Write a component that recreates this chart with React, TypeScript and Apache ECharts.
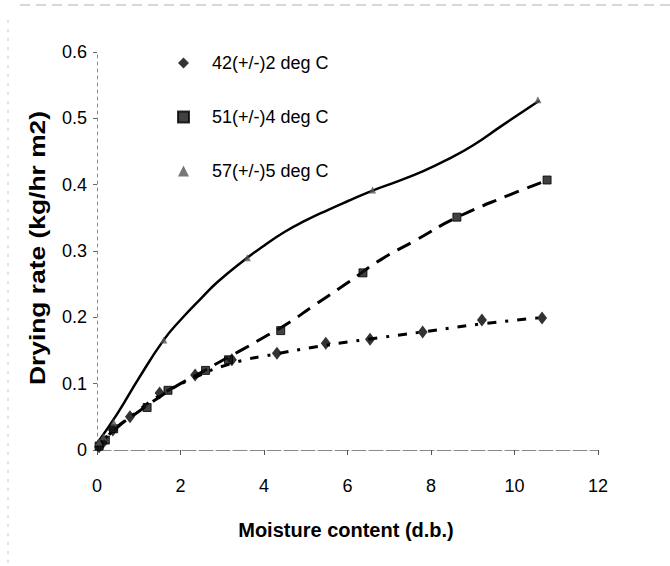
import React, { useEffect, useRef } from "react";
import * as echarts from "echarts";

// Measured points (moisture content d.b., drying rate kg/hr m2)
const series42X = [0.05, 0.14, 0.38, 0.79, 1.5, 2.35, 3.23, 4.31, 5.48, 6.54, 7.8, 9.22, 10.66];
const series42Y = [0.005, 0.011, 0.03, 0.05, 0.086, 0.113, 0.136, 0.146, 0.161, 0.167, 0.178, 0.196, 0.199];

const series51X = [0.05, 0.2, 0.4, 1.2, 1.7, 2.6, 3.15, 4.4, 6.37, 8.62, 10.78];
const series51Y = [0.006, 0.015, 0.032, 0.064, 0.09, 0.12, 0.136, 0.18, 0.267, 0.351, 0.407];

const series57X = [0.05, 0.15, 0.4, 1.6, 3.6, 6.6, 10.56];
const series57Y = [0.012, 0.02, 0.042, 0.166, 0.29, 0.392, 0.528];

// Fitted trend lines
const trend42X = [0, 0.4, 0.8, 1.5, 2.3, 3.2, 4.3, 5.5, 6.5, 7.8, 9.2, 10.7];
const trend42Y = [0.003, 0.03, 0.05, 0.082, 0.108, 0.13, 0.145, 0.158, 0.167, 0.178, 0.19, 0.2];

const trend51X = [0, 0.5, 1, 1.5, 2, 2.5, 3, 3.5, 4, 4.5, 5.2, 6, 6.8, 7.6, 8.6, 9.9, 10.8];
const trend51Y = [0.005, 0.035, 0.058, 0.08, 0.1, 0.117, 0.135, 0.152, 0.17, 0.188, 0.218, 0.252, 0.287, 0.315, 0.35, 0.385, 0.407];

const trend57X = [0, 0.5, 1, 1.6, 2, 2.5, 2.9, 3.5, 4, 4.5, 5, 5.5, 6, 6.6, 7.2, 7.8, 8.4, 9, 9.7, 10.6];
const trend57Y = [0.01, 0.056, 0.108, 0.166, 0.196, 0.229, 0.254, 0.285, 0.308, 0.329, 0.346, 0.361, 0.375, 0.391, 0.405, 0.42, 0.438, 0.459, 0.489, 0.527];

const legendNames = ["42(+/-)2 deg C", "51(+/-)4 deg C", "57(+/-)5 deg C"];
const xTitle = "Moisture content (d.b.)";
const yTitle = "Drying rate (kg/hr m2)";

const zip = (xs: number[], ys: number[]) => xs.map((x, i) => [x, ys[i]]);

const FONT = "'Liberation Sans Narrow', 'Liberation Sans', Arial, sans-serif";
const FONT_B = "'Liberation Sans', Arial, sans-serif";

export default function App() {
  const ref = useRef<HTMLDivElement>(null);
  useEffect(() => {
    if (!ref.current) return;
    const chart = echarts.init(ref.current, null, { renderer: "svg" });
    chart.setOption({
      animation: false,
      backgroundColor: "#ffffff",
      grid: { left: 97, right: 72, top: 52, bottom: 116, containLabel: false },
      xAxis: {
        type: "value",
        min: 0,
        max: 12,
        interval: 2,
        axisLine: { show: true, onZero: false, lineStyle: { color: "#8a8a8a", width: 1, type: [14, 3] } },
        axisTick: { show: true, length: 5, lineStyle: { color: "#555", width: 1 } },
        axisLabel: { color: "#000", fontSize: 18, fontFamily: FONT, margin: 27 },
        splitLine: { show: false },
      },
      yAxis: {
        type: "value",
        min: 0,
        max: 0.6,
        interval: 0.1,
        axisLine: { show: true, lineStyle: { color: "#888", width: 1, type: [3, 4] } },
        axisTick: { show: true, length: 4, lineStyle: { color: "#666", width: 1 } },
        axisLabel: {
          color: "#000",
          fontSize: 18,
          fontFamily: FONT,
          margin: 10,
          formatter: (v: number) => (v === 0 ? "0" : String(Math.round(v * 10) / 10)),
        },
        splitLine: { show: false },
      },
      legend: {
        data: legendNames,
        orient: "vertical",
        left: 172,
        top: 48,
        itemWidth: 11,
        itemHeight: 11,
        itemGap: 34,
        textStyle: { color: "#000", fontSize: 18, fontFamily: FONT, lineHeight: 20, padding: [0, 0, 0, 18] },
      },
      graphic: [
        {
          type: "text",
          x: 37,
          y: 248,
          rotation: Math.PI / 2,
          scaleX: 1.2,
          style: {
            text: yTitle,
            fontSize: 22,
            fontWeight: "bold",
            fontFamily: FONT_B,
            fill: "#000",
            textAlign: "center",
            textVerticalAlign: "middle",
          },
        },
        {
          type: "text",
          x: 346,
          y: 530,
          style: {
            text: xTitle,
            fontSize: 20,
            fontWeight: "bold",
            fontFamily: FONT_B,
            fill: "#000",
            textAlign: "center",
            textVerticalAlign: "middle",
          },
        },
        {
          type: "line",
          shape: { x1: 8, y1: 20, x2: 8, y2: 566 },
          style: { stroke: "#c8c8c8", lineWidth: 1, lineDash: [3, 6] },
        },
        {
          type: "line",
          shape: { x1: 20, y1: 5, x2: 670, y2: 5 },
          style: { stroke: "#b0b0b0", lineWidth: 1, lineDash: [10, 6] },
        },
      ],
      series: [
        {
          name: "trend42",
          type: "line",
          data: zip(trend42X, trend42Y),
          smooth: 0.5,
          showSymbol: false,
          lineStyle: { color: "#000", width: 3, type: [9, 9, 3, 9] },
          silent: true,
          z: 1,
        },
        {
          name: "trend51",
          type: "line",
          data: zip(trend51X, trend51Y),
          smooth: 0.5,
          showSymbol: false,
          lineStyle: { color: "#000", width: 3, type: [15, 9] },
          silent: true,
          z: 1,
        },
        {
          name: "trend57",
          type: "line",
          data: zip(trend57X, trend57Y),
          smooth: 0.5,
          showSymbol: false,
          lineStyle: { color: "#000", width: 2.5, type: "solid" },
          silent: true,
          z: 1,
        },
        {
          name: legendNames[0],
          type: "scatter",
          data: zip(series42X, series42Y),
          symbol: "diamond",
          symbolSize: [10, 13],
          itemStyle: { color: "#000" },
          z: 3,
        },
        {
          name: legendNames[1],
          type: "scatter",
          data: zip(series51X, series51Y),
          symbol: "rect",
          symbolSize: 8,
          itemStyle: { color: "#111", borderColor: "#000", borderWidth: 1 },
          z: 3,
        },
        {
          name: legendNames[2],
          type: "scatter",
          data: zip(series57X, series57Y),
          symbol: "triangle",
          symbolSize: 7,
          itemStyle: { color: "#555" },
          z: 3,
        },
      ],
    });
    return () => chart.dispose();
  }, []);
  return (
    <div
      ref={ref}
      style={{ position: "absolute", left: 0, top: 0, width: 670, height: 566, background: "#fff" }}
    />
  );
}
